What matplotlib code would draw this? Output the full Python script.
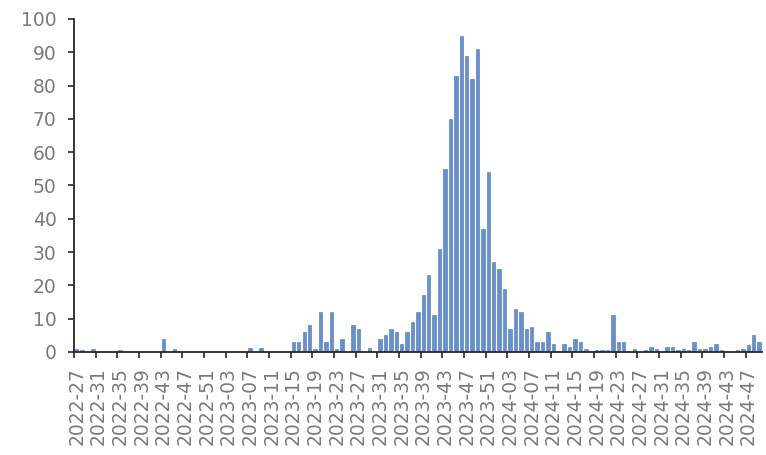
import numpy as np
import matplotlib
matplotlib.use("Agg")
import matplotlib.pyplot as plt

# weekly counts, 2022-27 .. 2024-49 (52-week years)
years = [2022] * 26 + [2023] * 52 + [2024] * 49
weeks = list(range(27, 53)) + list(range(1, 53)) + list(range(1, 50))
labels = ["%d-%02d" % (y, w) for y, w in zip(years, weeks)]

counts = [
    # 2022-27 .. 2022-52
    1, 0.5, 0, 1, 0, 0, 0, 0, 0.5, 0, 0, 0, 0, 0, 0, 0, 4, 0, 1, 0,
    0, 0, 0, 0, 0, 0,
    # 2023-01 .. 2023-52
    0, 0, 0, 0, 0, 0, 1.3, 0, 1.3, 0, 0, 0, 0, 0, 3, 3, 6, 8, 1, 12,
    3, 12, 1, 4, 0, 8, 7, 0, 1.3, 0, 4, 5, 7, 6, 2.5, 6, 9, 12, 17, 23,
    11, 31, 55, 70, 83, 95, 89, 82, 91, 37, 54, 27,
    # 2024-01 .. 2024-49
    25, 19, 7, 13, 12, 7, 7.5, 3, 3, 6, 2.5, 0, 2.5, 1.5, 4, 3, 1, 0, 0.7, 0.7,
    0.7, 11, 3, 3, 0, 1, 0, 0.5, 1.5, 1, 0, 1.5, 1.5, 0.5, 1, 0.5, 3, 1, 1, 1.5,
    2.5, 0.5, 0, 0, 0.5, 1, 2, 5, 3,
]

x = np.arange(len(counts))

fig = plt.figure(figsize=(7.66, 4.55), dpi=100)
ax = fig.add_axes([0.0966, 0.2264, 0.898, 0.732])

ax.bar(x, counts, width=0.62, color="#6590d4", edgecolor="#4a72b8", linewidth=0.4)

ax.set_xlim(-0.5, len(counts) - 0.5)
ax.set_ylim(0, 100)
ax.set_yticks(range(0, 101, 10))

# labels every 4 weeks centred on the category, ticks on the category edge
ax.set_xticks(x[::4])
ax.set_xticklabels(labels[::4], rotation=90)
ax.set_xticks(x[::4] - 0.5, minor=True)
ax.tick_params(axis="x", which="major", length=0, pad=11)
ax.tick_params(axis="x", which="minor", length=4.5, width=1.2, color="#262626")
ax.tick_params(axis="y", length=4.5, width=1.2, color="#262626", pad=8)
ax.tick_params(labelsize=13.5, labelcolor="#7a7a7a")

for s in ["top", "right"]:
    ax.spines[s].set_visible(False)
for s in ["left", "bottom"]:
    ax.spines[s].set_linewidth(1.3)
    ax.spines[s].set_color("#262626")

fig.savefig("out.png", dpi=100)
